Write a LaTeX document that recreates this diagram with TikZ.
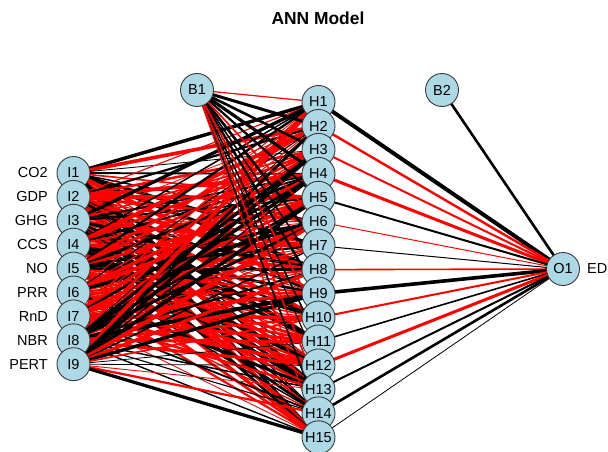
\documentclass[tikz,border=0pt]{standalone}
\usepackage{fontspec}
\setmainfont{Liberation Sans}
\definecolor{nodefill}{HTML}{ADD8E6}
\definecolor{nodeedge}{HTML}{3A3A3A}
\pgfdeclarelayer{edges}
\pgfsetlayers{edges,main}
\tikzset{
  neuron/.style={circle, draw=nodeedge, line width=0.9pt, fill=nodefill,
    minimum size=33pt, inner sep=0pt, font=\fontsize{14.5}{15}\selectfont},
  varlabel/.style={anchor=east, inner sep=0pt, font=\fontsize{14.5}{15}\selectfont},
  wpos/.style={black, line width=#1pt},
  wneg/.style={red, line width=#1pt},
}
\begin{document}
\begin{tikzpicture}[x=1pt, y=-1pt]
\useasboundingbox (0,0) rectangle (608,452);

\node[font=\bfseries\fontsize{17.4}{18}\selectfont] (title) at (318,18.5) {ANN Model};

% input layer
\foreach \k/\lab in {1/CO2,2/GDP,3/GHG,4/CCS,5/NO,6/PRR,7/RnD,8/NBR,9/PERT}{
  \node[neuron] (I\k) at (73.5,{173+23.9*(\k-1)}) {I\k};
  \node[varlabel] (L\k) at (48,{173+23.9*(\k-1)}) {\lab};
}
% hidden layer
\foreach \k in {1,...,15}{
  \node[neuron] (H\k) at (318.5,{102+23.95*(\k-1)}) {H\k};
}
% bias and output nodes
\node[neuron] (B1) at (197,90) {B1};
\node[neuron] (B2) at (442,90) {B2};
\node[neuron] (O1) at (563,269) {O1};
\node[anchor=west, inner sep=0pt, font=\fontsize{14.5}{15}\selectfont] (ED) at (587,269) {ED};

\begin{pgfonlayer}{edges}
  % input -> hidden weights
  \pgfmathsetseed{4711}
  \foreach \i in {1,...,9}{
    \foreach \h in {1,...,15}{
      \pgfmathsetmacro{\w}{rand}
      \pgfmathsetmacro{\lw}{0.8+3.2*abs(\w)}
      \ifdim\w pt<0pt
        \draw[wneg=\lw] (I\i.center) -- (H\h.center);
      \else
        \draw[wpos=\lw] (I\i.center) -- (H\h.center);
      \fi
    }
  }
  % bias -> hidden weights
  \draw[wneg=1.2] (B1.center) -- (H1.center);
  \foreach \h/\lw in {2/3.0,3/2.6,4/3.2,5/2.2,7/2.6,8/1.6,9/2.4,11/1.6,12/1.2,14/1.8}{
    \draw[wpos=\lw] (B1.center) -- (H\h.center);
  }
  \foreach \h/\lw in {6/1.6,10/1.8,13/1.6,15/1.2}{
    \draw[wneg=\lw] (B1.center) -- (H\h.center);
  }
  % hidden -> output weights
  \draw[wpos=4.0] (H1.center) -- (O1.center);
  \draw[wneg=2.4] (H2.center) -- (O1.center);
  \draw[wneg=2.0] (H3.center) -- (O1.center);
  \draw[wneg=3.0] (H4.center) -- (O1.center);
  \draw[wpos=2.0] (H5.center) -- (O1.center);
  \draw[wneg=1.0] (H6.center) -- (O1.center);
  \draw[wpos=1.0] (H7.center) -- (O1.center);
  \draw[wneg=1.6] (H8.center) -- (O1.center);
  \draw[wpos=3.6] (H9.center) -- (O1.center);
  \draw[wneg=2.0] (H10.center) -- (O1.center);
  \draw[wpos=1.6] (H11.center) -- (O1.center);
  \draw[wneg=3.0] (H12.center) -- (O1.center);
  \draw[wpos=2.0] (H13.center) -- (O1.center);
  \draw[wpos=2.6] (H14.center) -- (O1.center);
  \draw[wpos=0.8] (H15.center) -- (O1.center);
  \draw[wpos=2.6] (B2.center) -- (O1.center);
\end{pgfonlayer}
\end{tikzpicture}
\end{document}
